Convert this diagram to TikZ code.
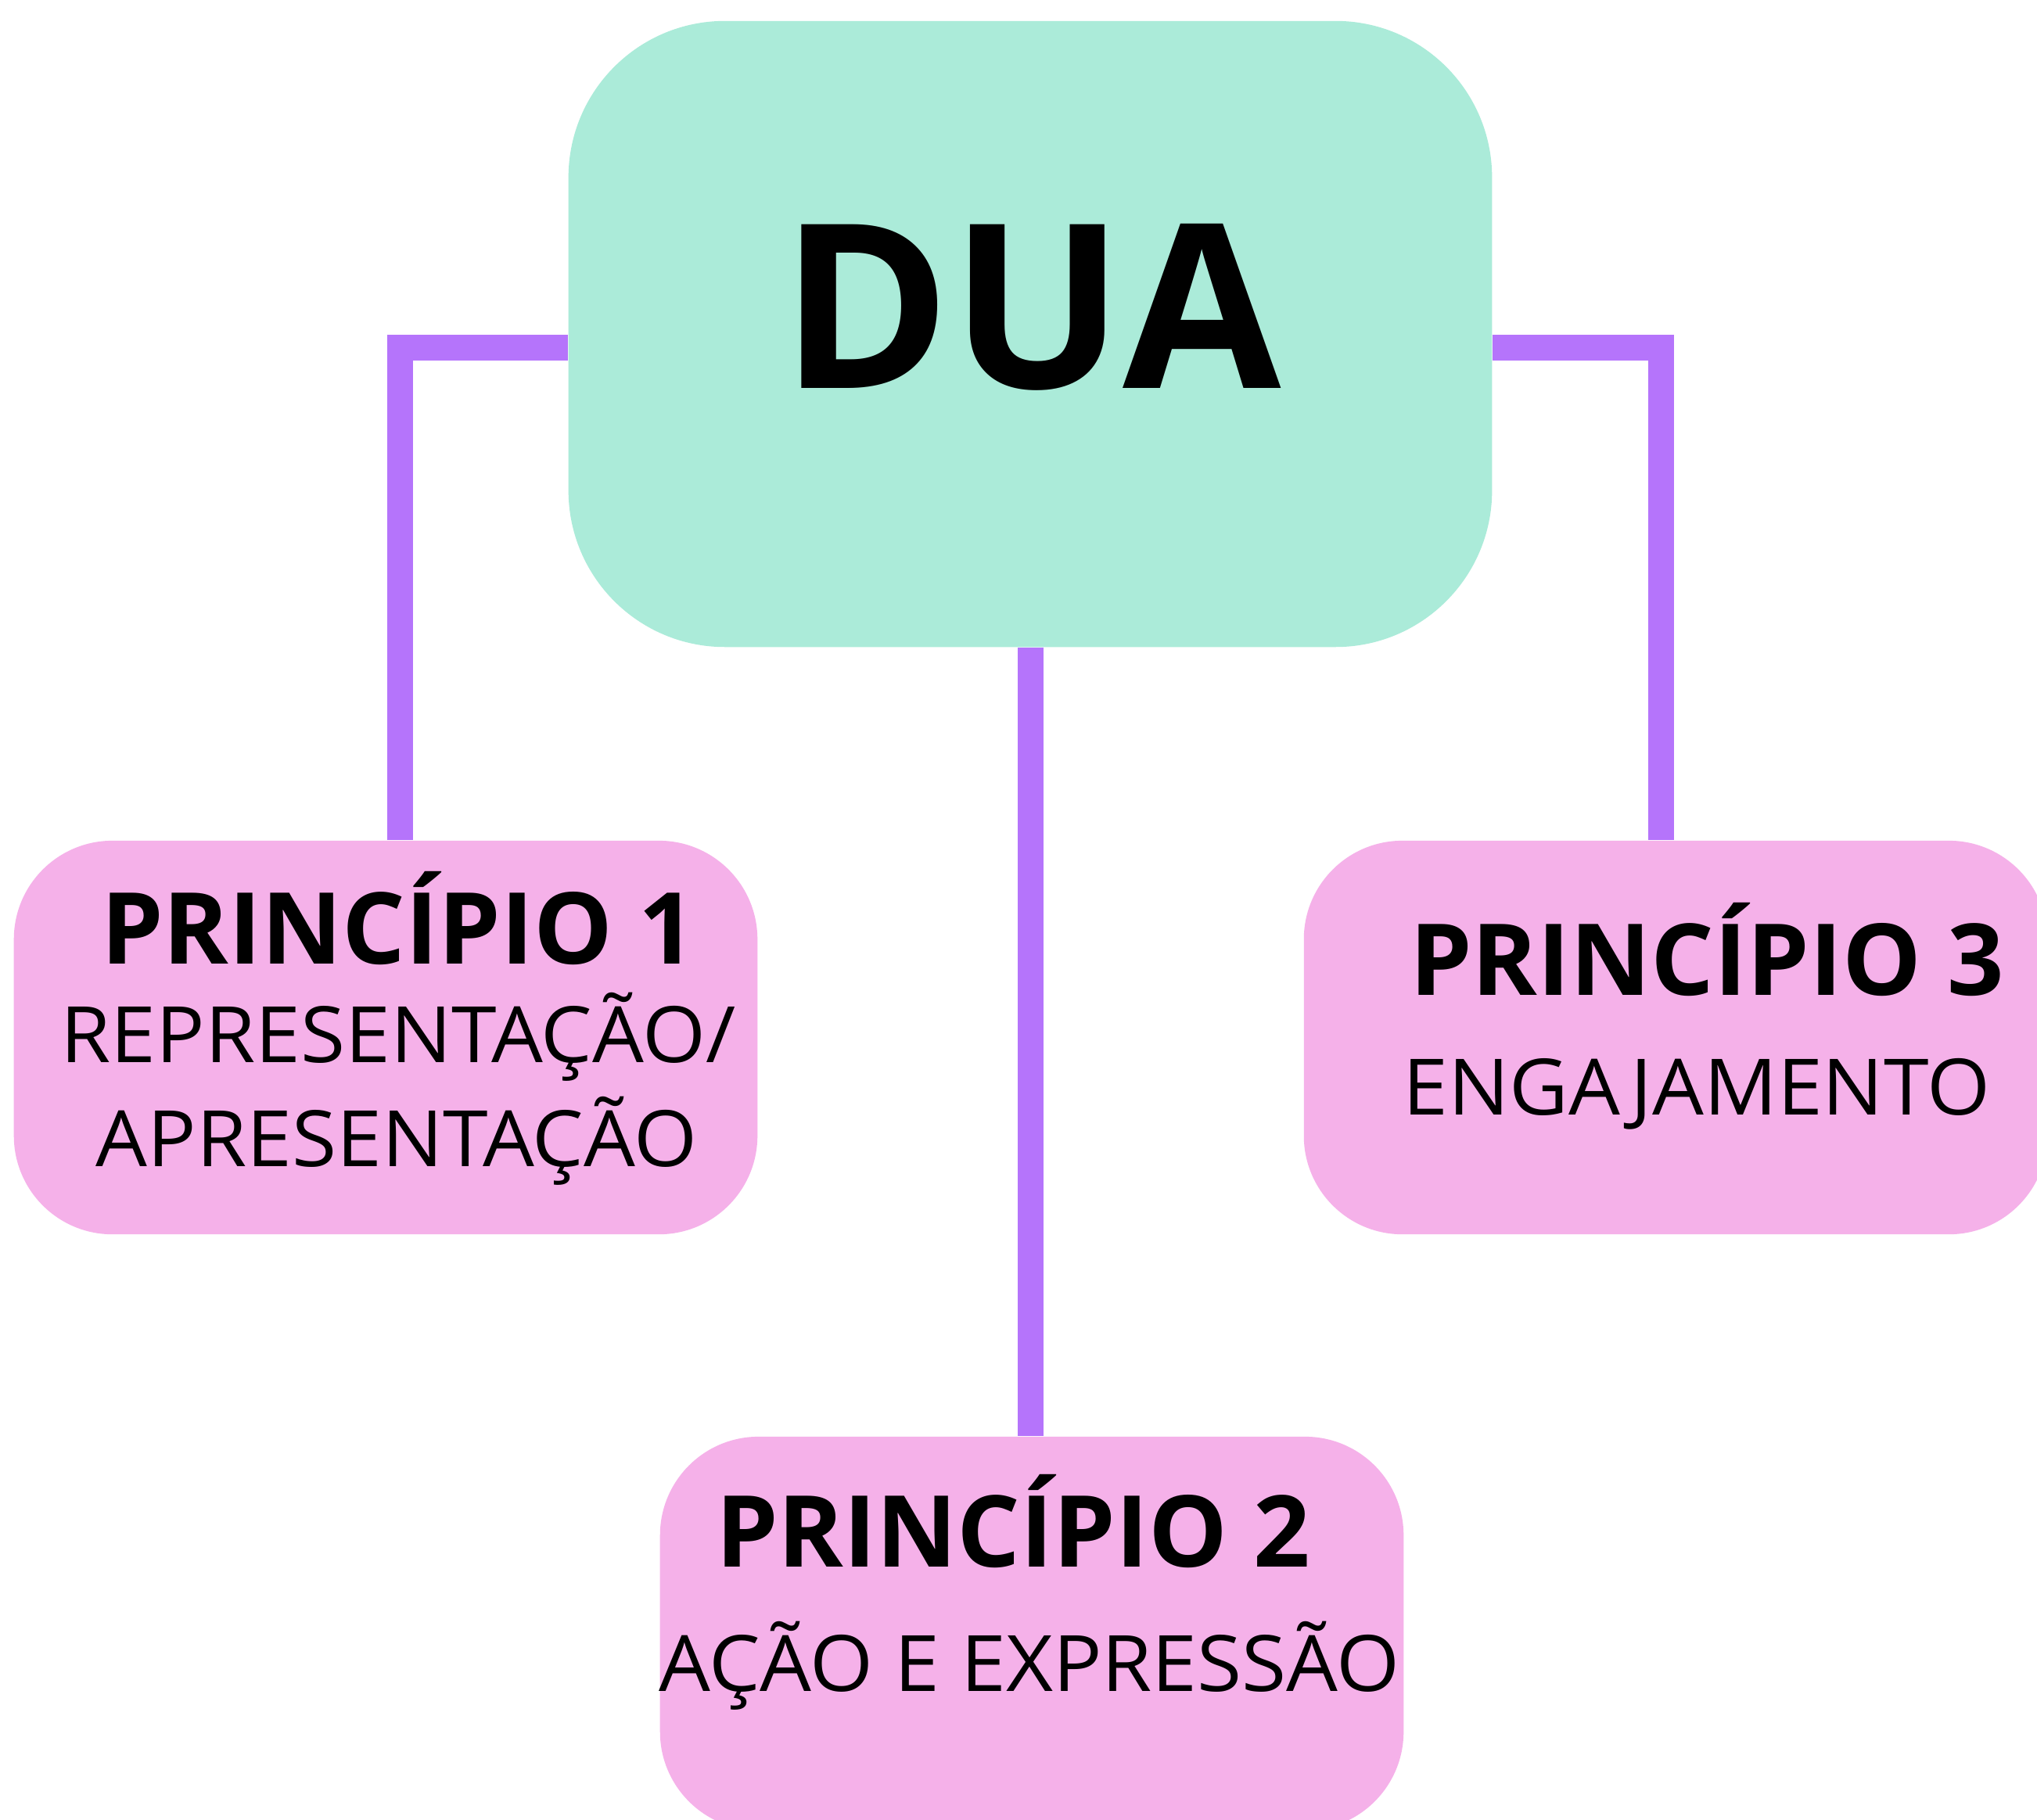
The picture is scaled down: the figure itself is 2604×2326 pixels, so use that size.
\documentclass[tikz,border=0pt]{standalone}
\usepackage{fontspec}
\setmainfont{Open Sans}
\newfontfamily\widesans[FakeStretch=1.045]{Open Sans}
\usetikzlibrary{calc}
\definecolor{mintbox}{RGB}{171,235,217}
\definecolor{pinkbox}{RGB}{245,177,233}
\definecolor{linkviolet}{RGB}{181,116,251}
\tikzset{
  mainbox/.style={fill=mintbox, draw=none, rounded corners=2cm, inner sep=0pt, minimum width=11.8cm, minimum height=8cm},
  subbox/.style={fill=pinkbox, draw=none, rounded corners=1.26cm, inner sep=0pt, minimum width=9.5cm, minimum height=5.03cm},
  conn/.style={draw=linkviolet, line width=0.33cm, line join=miter, line cap=butt},
  bigtitle/.style={anchor=base, inner sep=0pt, font=\fontsize{83.4}{90}\selectfont\bfseries},
  ptitle/.style={anchor=base, inner sep=0pt, font=\fontsize{36.1}{40}\selectfont\bfseries},
  ptext/.style={anchor=base, inner sep=0pt, font=\widesans\fontsize{28.3}{32}\selectfont},
}
\begin{document}
\begin{tikzpicture}[x=0.01cm, y=-0.01cm]
\fill[white] (0,0) rectangle (2604,2326);
\useasboundingbox (0,0) rectangle (2604,2326);
\clip (0,0) rectangle (2604,2326);
% boxes
\node[mainbox] (dua) at (1317,427) {};
\node[subbox] (p1) at (493,1326.5) {};
\node[subbox] (p3) at (2142,1326.5) {};
\node[subbox] (p2) at (1319,2088.5) {};
% connectors
\draw[conn] ([yshift=-0.17cm]dua.west) -| ([xshift=0.18cm]p1.north);
\draw[conn] ([yshift=-0.17cm]dua.east) -| ([xshift=-0.19cm]p3.north);
\draw[conn] (dua.south) -- (dua.south |- p2.north);
% texts
\node[bigtitle] (duat) at (1318,496.6) {DUA};
\node[ptitle] (p1t) at (509,1232) {PRINCÍPIO 1};
\node[ptext] (p1a) at (509,1358) {REPRESENTAÇÃO/};
\node[ptext] (p1b) at (507,1491) {APRESENTAÇÃO};
\node[ptitle] (p3t) at (2182,1272) {PRINCÍPIO 3};
\node[ptext] (p3a) at (2169,1425) {ENGAJAMENTO};
\node[ptitle] (p2t) at (1295,2003) {PRINCÍPIO 2};
\node[ptext] (p2a) at (1316,2162) {AÇÃO E EXPRESSÃO};
\end{tikzpicture}
\end{document}
